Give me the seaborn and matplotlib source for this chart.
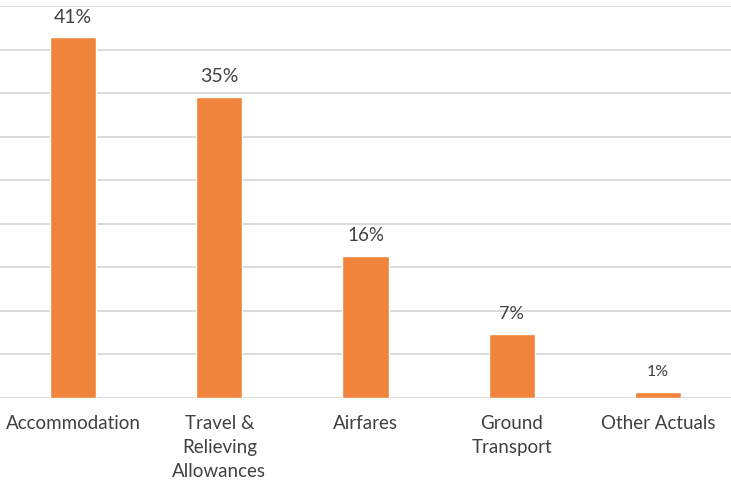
import matplotlib
matplotlib.use("Agg")
import matplotlib.pyplot as plt
import seaborn as sns
import pandas as pd

categorias = ["Accommodation", "Travel &\nRelieving\nAllowances", "Airfares",
              "Ground\nTransport", "Other Actuals"]
valores = [41.4, 34.6, 16.3, 7.3, 0.7]
rotulos = ["41%", "35%", "16%", "7%", "1%"]
tamanho_rotulo = [14, 14, 13.5, 13, 11.5]

sns.set_theme(style="white")
plt.rcParams["font.family"] = ["Lato", "DejaVu Sans"]

df = pd.DataFrame({"categoria": categorias, "valor": valores})

fig = plt.figure(figsize=(7.31, 4.82), dpi=100)
ax = fig.add_axes([0.0, 1 - 398 / 482, 1.0, 392 / 482])

sns.barplot(data=df, x="categoria", y="valor", color="#F0843C", saturation=1,
            width=0.315, ax=ax, zorder=3)

ax.set_ylim(0, 45)
ax.set_xlim(-0.5, 4.5)
ax.set_yticks(range(0, 46, 5))
ax.set_yticklabels([])
ax.grid(axis="y", color="#d9d9d9", linewidth=1.4, zorder=0)
ax.set_axisbelow(True)
for s in ax.spines.values():
    s.set_visible(False)
ax.tick_params(axis="both", length=0)
ax.tick_params(axis="x", pad=12, labelsize=13.5, colors="#404040")
for t in ax.get_xticklabels():
    t.set_linespacing(1.5)
    t.set_verticalalignment("top")
ax.set_xlabel("")
ax.set_ylabel("")

for i, (v, r) in enumerate(zip(valores, rotulos)):
    ax.annotate(r, (i, v), xytext=(0, 14.5), textcoords="offset points",
                ha="center", va="center", fontsize=tamanho_rotulo[i], color="#404040")

fig.savefig("out.png", dpi=100)
